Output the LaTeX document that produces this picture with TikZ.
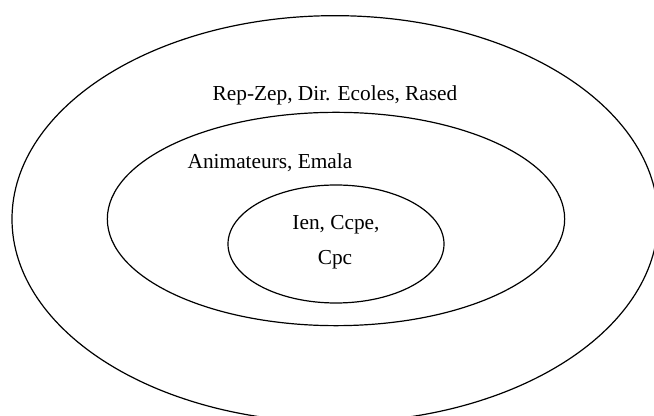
\documentclass[tikz,border=0pt]{standalone}
\usepackage{fontspec}
\setmainfont{Liberation Serif}
\usetikzlibrary{shapes.geometric}
\begin{document}
\begin{tikzpicture}[x=0.75pt, y=-0.75pt, line width=0.9pt]
  \tikzstyle{ring}=[ellipse, draw, inner sep=0pt]
  \tikzstyle{ring_label}=[inner sep=0pt, anchor=base, font=\fontsize{16}{19}\selectfont]
  \useasboundingbox (0,0) rectangle (654,416);
  \node[ring, minimum width=484.5pt, minimum height=305pt] (outer)  at (335,219) {};
  \node[ring, minimum width=343pt, minimum height=160pt] (middle) at (336,219) {};
  \node[ring, minimum width=162pt, minimum height=88.5pt] (inner) at (336,244) {};
  \node[ring_label] (l1) at (335,101) {Rep-Zep, Dir. Ecoles, Rased};
  \node[ring_label] (l2) at (270,169) {Animateurs, Emala};
  \node[ring_label] (l3) at (336,230) {Ien, Ccpe,};
  \node[ring_label] (l4) at (335,265) {Cpc};
\end{tikzpicture}
\end{document}
